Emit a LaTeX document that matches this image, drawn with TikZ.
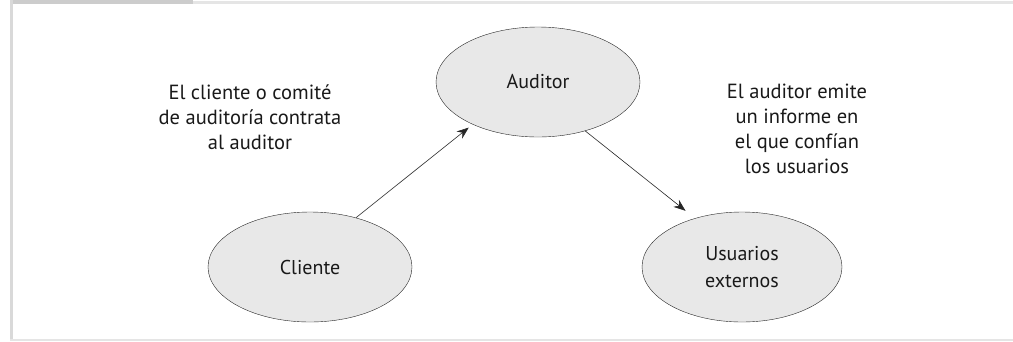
\documentclass[tikz,border=0pt]{standalone}
\usepackage{fontspec}
\setmainfont{PT Sans}
\usetikzlibrary{shapes.geometric, arrows.meta, positioning}
\tikzstyle{party} = [ellipse, draw=black!85, fill=gray!18, minimum width=204pt, minimum height=110pt, align=center, inner sep=0pt, font=\fontsize{20}{27}\selectfont, text=black!90]
\tikzstyle{note} = [align=center, font=\fontsize{20.5}{25}\selectfont, text=black!90]
\tikzstyle{arrow} = [semithick,->,>={Stealth[length=12pt,width=9pt]},draw=black!85]

\begin{document}
\begin{tikzpicture}[x=1pt, y=-1pt]
        \useasboundingbox (0,0) rectangle (1013,341);
        % frame
        \fill[gray!40] (10,0) rectangle (193,4);
        \fill[gray!20] (193,1) rectangle (1013,4);
        \fill[gray!30] (10,0) rectangle (12.5,341);
        \fill[gray!20] (10,338.5) rectangle (1013,341);

        \node (A) [party] at (538,82) {Auditor};
        \node (C) [party] at (310,267) {Cliente};
        \node (U) [party, minimum width=200pt] at (742,267) {Usuarios\\externos};

        \node (hire) [note] at (250,117) {El cliente o comité\\de auditoría contrata\\al auditor};
        \node (report) [note] at (797,129) {El auditor emite\\un informe en\\el que confían\\los usuarios};

        \draw[arrow, shorten >=5pt] (C.47) -- (A.213);
        \draw[arrow, shorten >=12pt] (A.-46) -- (U.134);
\end{tikzpicture}
\end{document}
